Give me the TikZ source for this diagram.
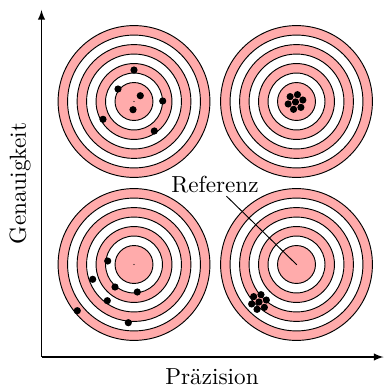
\documentclass[tikz,border=0pt]{standalone}
\usepackage{fontspec}
\begin{document}
\begin{tikzpicture}[x=0.431pt,y=-0.431pt,
  ringp/.style={draw=black,fill=red!33,line width=0.4pt},
  ringw/.style={draw=black,fill=white,line width=0.4pt},
  hit/.style={fill=black},
  axis/.style={draw=black,line width=0.45pt,-latex},
  lbl/.style={inner sep=1pt}]
\useasboundingbox (0,0) rectangle (384,388);
% target centres
\coordinate (t1) at (134,101.5);
\coordinate (t2) at (296.5,101.5);
\coordinate (t3) at (134,264.5);
\coordinate (t4) at (296.5,264.5);
\foreach \t in {t1,t2,t3,t4}{
  \foreach \k/\s in {8/ringp,7/ringw,6/ringp,5/ringw,4/ringp,3/ringw,2/ringp}
    \path[\s] (\t) circle[radius=\k*4.09pt];
  \fill (\t) circle[radius=0.3pt];
}
% top left: scattered
\foreach \p in {(0,-31.5),(-16,-12.5),(6.3,-5.8),(28.7,-0.5),(-1,8.2),(-31,17.8),(20.3,29.5)}
  \fill[hit] (t1) ++\p circle[radius=1.55pt];
% bottom left: scattered and off
\foreach \p in {(-26.3,-3.5),(-41.3,14.8),(-19,22.5),(3.3,27.5),(-26.7,36.2),(-56.7,46.2),(-5.7,58.2)}
  \fill[hit] (t3) ++\p circle[radius=1.55pt];
% clusters
\coordinate (k2) at (295.5,102);
\coordinate (k4) at (259,302);
\foreach \c in {k2,k4}{
  \fill[hit] (\c) circle[radius=1.55pt];
  \foreach \a in {15,75,...,315}
    \fill[hit] (\c) ++(-\a:7.6) circle[radius=1.55pt];
}
% reference label
\node[lbl] (ref) at (215,185) {Referenz};
\draw[line width=0.4pt] (ref) -- (t4);
% axes
\coordinate (o) at (41.5,357);
\coordinate (ytop) at (41.5,10);
\coordinate (xend) at (383.5,357);
\draw[axis] (o) -- (ytop);
\draw[axis] (o) -- (xend);
\node[rotate=90] (gl) at (20,183.5) {Genauigkeit};
\node (pl) at (212,377) {Präzision};
\end{tikzpicture}
\end{document}
